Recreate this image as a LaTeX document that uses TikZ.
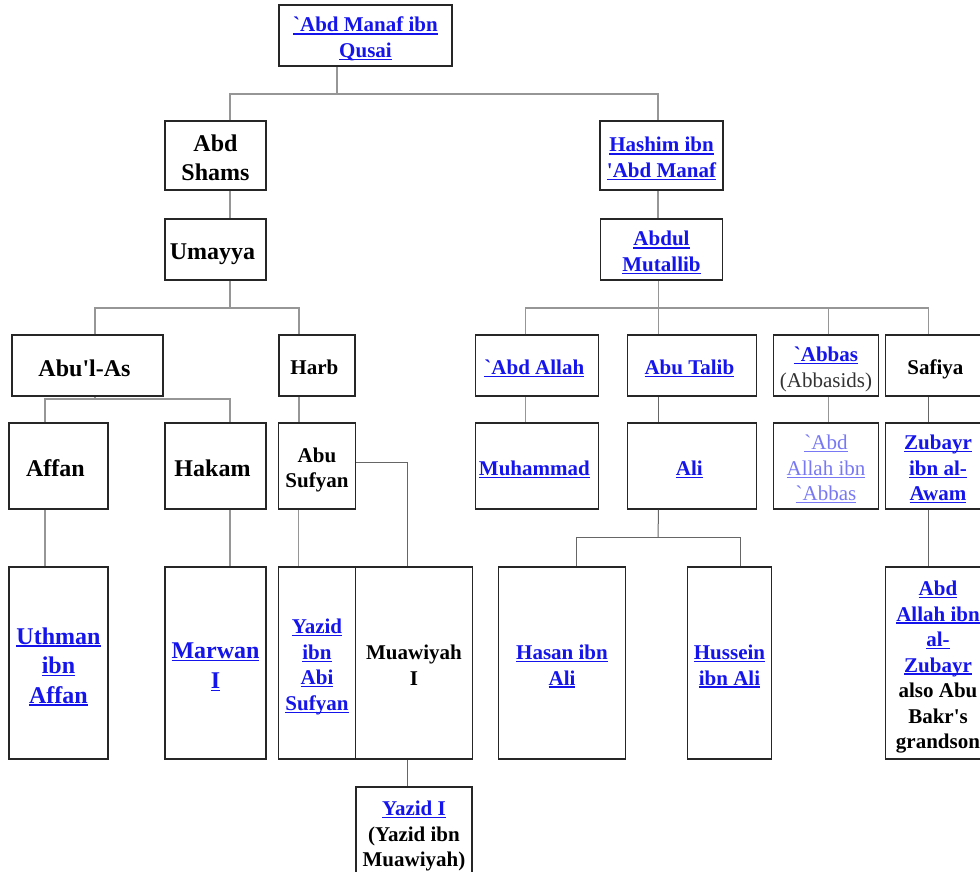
\documentclass[tikz,border=0pt]{standalone}
\usepackage{fontspec}
\setmainfont{Liberation Serif}
\usepackage{xcolor}
\usepackage{tikz}
\usetikzlibrary{positioning}
\definecolor{linkblue}{RGB}{20,20,235}
\definecolor{visitblue}{RGB}{120,120,245}
\definecolor{edgegray}{RGB}{150,150,150}
\newcommand{\wlink}[2][linkblue]{\textcolor{#1}{\setbox0\hbox{#2}\rlap{\rule[-2.6pt]{\wd0}{1.3pt}}\box0}}
\newcommand{\topstrut}{\rule{0pt}{1.08em}}

\begin{document}
\begin{tikzpicture}[x=1pt ,y=-1pt ,node distance = 100pt ,on grid ,person/.style ={ rectangle , draw=black!85 , line width=1.5pt , fill=white , align=center , inner sep=2pt , font=\fontsize{21}{25.5}\selectfont\bfseries , execute at end node={\rule[-0.2em]{0pt}{0.2em}} }, elder/.style ={ person , font=\fontsize{24}{29.5}\selectfont\bfseries }, link/.style ={ draw=edgegray , line width=1.6pt }, thinlink/.style ={ draw=black!60 , line width=1pt }]
\useasboundingbox (0,0) rectangle (980,871);
\node[person] (manaf) at (365.5,35.5) [minimum width=173pt, minimum height=61pt] { \topstrut\wlink{\textasciigrave Abd Manaf ibn}\\ \wlink{Qusai} };
\node[elder] (shams) [below left = 120pt and 150pt of manaf, minimum width=101pt, minimum height=69pt] { \topstrut Abd\\ Shams };
\node[person] (hashim) [below right = 120pt and 296pt of manaf, minimum width=123pt, minimum height=69pt] { \topstrut\wlink{Hashim ibn}\\ \wlink{\textquotesingle Abd Manaf} };
\node[elder] (umayya) [below = 94pt of shams, minimum width=101pt, minimum height=61pt] { \topstrut Umayya };
\node[person] (mutallib) [below = 94pt of hashim, minimum width=122pt, minimum height=61pt] { \topstrut\wlink{Abdul}\\ \wlink{Mutallib} };
\node[elder] (abulas) [below left = 116pt and 128pt of umayya, minimum width=151pt, minimum height=61pt] { \topstrut Abu\textquotesingle l-As };
\node[person] (harb) [below right = 116pt and 101.5pt of umayya, minimum width=76pt, minimum height=61pt] { \topstrut Harb };
\node[elder] (affan) [below left = 100.5pt and 29pt of abulas, minimum width=99pt, minimum height=86pt] { \topstrut Affan };
\node[elder] (hakam) [below right = 100.5pt and 128pt of abulas, minimum width=101pt, minimum height=86pt] { \topstrut Hakam };
\node[person] (abusufyan) [below = 100.5pt of harb, minimum width=77pt, minimum height=86pt] { \topstrut Abu\\ Sufyan };
\node[elder] (uthman) [below = 197pt of affan, minimum width=99pt, minimum height=192pt] { \topstrut\wlink{Uthman}\\ \wlink{ibn}\\ \wlink{Affan} };
\node[elder] (marwan) [below = 197pt of hakam, minimum width=101pt, minimum height=192pt] { \topstrut\wlink{Marwan}\\ \wlink{I} };
\node[person] (yazid) [below = 197pt of abusufyan, minimum width=77pt, minimum height=192pt] { \topstrut\wlink{Yazid}\\ \wlink{ibn}\\ \wlink{Abi}\\ \wlink{Sufyan} };
\node[person] (muawiyah) [right = 97pt of yazid, minimum width=117pt, minimum height=192pt] { \topstrut Muawiyah\\ I };
\node[person] (yazidI) [below = 169pt of muawiyah, minimum width=116pt, minimum height=90pt] { \topstrut\wlink{Yazid I}\\ (Yazid ibn\\ Muawiyah) };
\node[person] (abdallah) [below left = 116pt and 124.5pt of mutallib, minimum width=123pt, minimum height=61pt] { \topstrut\wlink{\textasciigrave Abd Allah} };
\node[person] (abutalib) [below right = 116pt and 30.5pt of mutallib, minimum width=129pt, minimum height=61pt] { \topstrut\wlink{Abu Talib} };
\node[person] (abbas) [right = 134pt of abutalib, minimum width=105pt, minimum height=61pt] { \topstrut\wlink{\textasciigrave Abbas}\\ {\mdseries\color{black!80}(Abbasids)} };
\node[person] (safiya) [right = 112pt of abbas, minimum width=105pt, minimum height=61pt] { \topstrut Safiya };
\node[person] (muhammad) [below = 100.5pt of abdallah, minimum width=123pt, minimum height=86pt] { \topstrut\wlink{Muhammad} };
\node[person] (ali) [below = 100.5pt of abutalib, minimum width=129pt, minimum height=86pt] { \topstrut\wlink{Ali} };
\node[person] (ibnabbas) [below = 100.5pt of abbas, minimum width=105pt, minimum height=86pt, font=\fontsize{21}{25.5}\selectfont\mdseries] { \topstrut\wlink[visitblue]{\textasciigrave Abd}\\ \wlink[visitblue]{Allah ibn}\\ \wlink[visitblue]{\textasciigrave Abbas} };
\node[person] (zubayr) [below = 100.5pt of safiya, minimum width=105pt, minimum height=86pt] { \topstrut\wlink{Zubayr}\\ \wlink{ibn al-}\\ \wlink{Awam} };
\node[person] (hasan) [below left = 197pt and 130pt of ali, minimum width=127pt, minimum height=192pt] { \topstrut\wlink{Hasan ibn}\\ \wlink{Ali} };
\node[person] (hussein) [below right = 197pt and 37.5pt of ali, minimum width=84pt, minimum height=192pt] { \topstrut\wlink{Hussein}\\ \wlink{ibn Ali} };
\node[person] (ibnzubayr) [below = 197pt of zubayr, minimum width=105pt, minimum height=192pt] { \topstrut\wlink{Abd}\\ \wlink{Allah ibn}\\ \wlink{al-}\\ \wlink{Zubayr}\\ also Abu\\ Bakr\textquotesingle s\\ grandson };
\coordinate (rootbus) at (337,94);
\coordinate (umbus) at (230,308);
\coordinate (asbus) at (95,399);
\coordinate (mubus) at (658,308);
\coordinate (alibus) at (658,537);
\draw[link] (manaf.south -| rootbus) -- (rootbus);
\draw[link] ([xshift=14.5pt]shams.north) |- (rootbus) -| ([xshift=-3.5pt]hashim.north);
\draw[link] ([xshift=14.5pt]shams.south) -- ([xshift=14.5pt]umayya.north);
\draw[link] ([xshift=14.5pt]umayya.south) -- (umbus);
\draw[link] ([xshift=7.5pt]abulas.north) |- (umbus) -| ([xshift=-18pt]harb.north);
\draw[link] (abulas.south -| asbus) -- (asbus);
\draw[link] ([xshift=-13.5pt]affan.north) |- (asbus) -| ([xshift=14.5pt]hakam.north);
\draw[link] ([xshift=-18pt]harb.south) -- ([xshift=-18pt]harb.south |- abusufyan.north);
\draw[link] ([xshift=-13.5pt]affan.south) -- ([xshift=-13.5pt]uthman.north);
\draw[link] ([xshift=14.5pt]hakam.south) -- ([xshift=14.5pt]marwan.north);
\draw[link] ([xshift=-18.5pt]abusufyan.south) -- ([xshift=-18.5pt]yazid.north);
\draw[thinlink] ([yshift=4pt]abusufyan.east) -| ([xshift=-6.5pt]muawiyah.north);
\draw[thinlink] ([xshift=-6.5pt]muawiyah.south) -- ([xshift=-6.5pt]muawiyah.south |- yazidI.north);
\draw[link] ([xshift=-3.5pt]hashim.south) -- ([xshift=-3.5pt]hashim.south |- mutallib.north);
\draw[link] ([xshift=-3pt]mutallib.south) -- ([xshift=-33.5pt]abutalib.north);
\draw[link] ([xshift=-11.5pt]abdallah.north) |- (mubus) -| ([xshift=-9.5pt]safiya.north);
\draw[link] ([xshift=2.5pt]abbas.north) |- (mubus);
\draw[link] ([xshift=-11.5pt]abdallah.south) -- ([xshift=-11.5pt]muhammad.north);
\draw[thinlink] ([xshift=-33.5pt]abutalib.south) -- ([xshift=-33.5pt]ali.north);
\draw[link] ([xshift=2.5pt]abbas.south) -- ([xshift=2.5pt]ibnabbas.north);
\draw[thinlink] ([xshift=-9.5pt]safiya.south) -- ([xshift=-9.5pt]zubayr.north);
\draw[thinlink] ([xshift=-33.5pt]ali.south) -- (alibus);
\draw[thinlink] ([xshift=14.5pt]hasan.north) |- (alibus) -| ([xshift=11pt]hussein.north);
\draw[thinlink] ([xshift=-9.5pt]zubayr.south) -- ([xshift=-9.5pt]ibnzubayr.north);
\end{tikzpicture}
\end{document}
